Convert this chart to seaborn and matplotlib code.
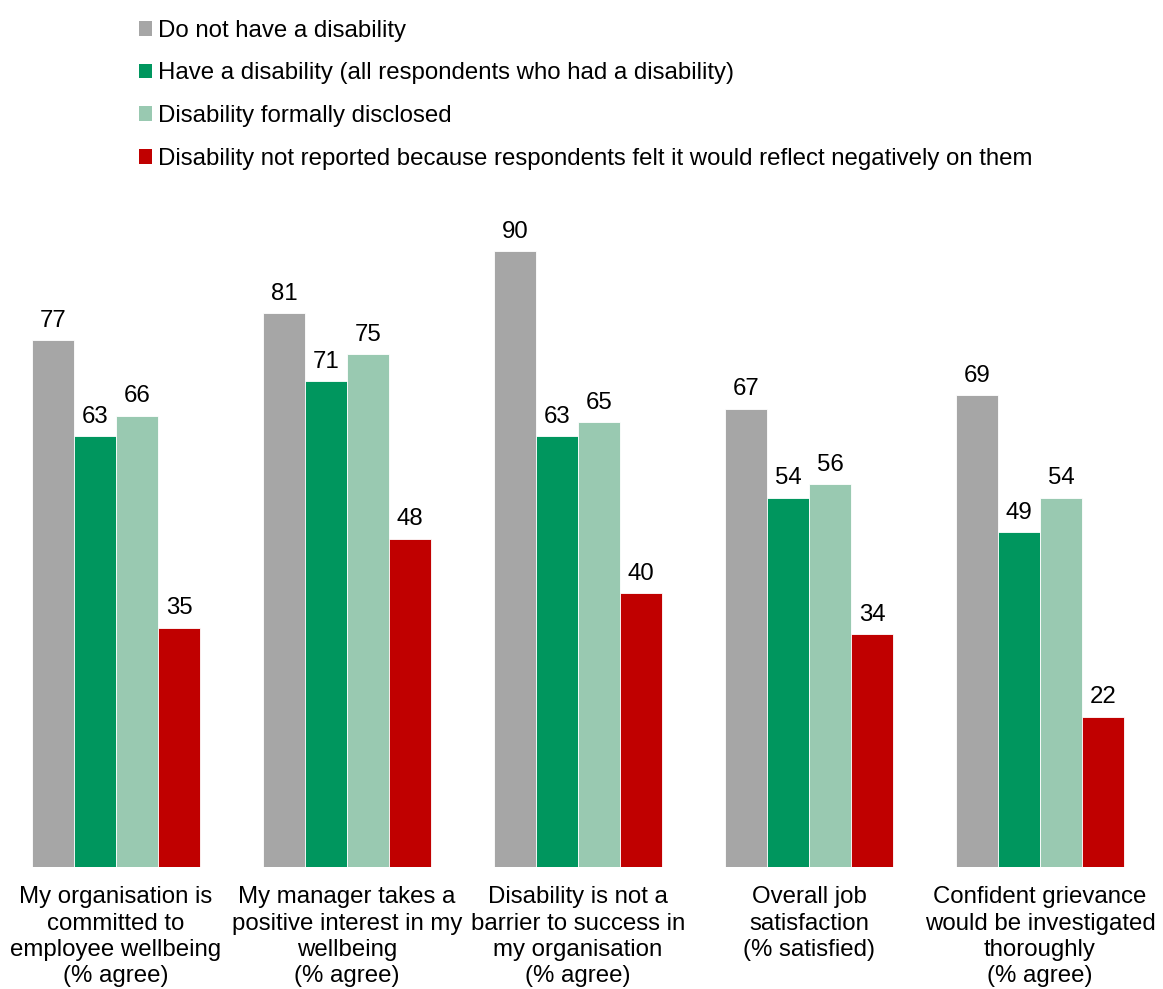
import matplotlib
matplotlib.use("Agg")
import matplotlib.pyplot as plt
import seaborn as sns
import pandas as pd
from matplotlib.patches import Patch

categories = [
    "My organisation is\ncommitted to\nemployee wellbeing\n(% agree)",
    "My manager takes a\npositive interest in my\nwellbeing\n(% agree)",
    "Disability is not a\nbarrier to success in\nmy organisation\n(% agree)",
    "Overall job\nsatisfaction\n(% satisfied)",
    "Confident grievance\nwould be investigated\nthoroughly\n(% agree)",
]
series_names = [
    "Do not have a disability",
    "Have a disability (all respondents who had a disability)",
    "Disability formally disclosed",
    "Disability not reported because respondents felt it would reflect negatively on them",
]
no_disability = [77, 81, 90, 67, 69]
have_disability = [63, 71, 63, 54, 49]
formally_disclosed = [66, 75, 65, 56, 54]
not_reported = [35, 48, 40, 34, 22]
colors = ["#A6A6A6", "#00965E", "#99C9B1", "#C00000"]

rows = []
for name, vals in zip(series_names, [no_disability, have_disability, formally_disclosed, not_reported]):
    for c, v in zip(categories, vals):
        rows.append({"category": c, "series": name, "value": v})
df = pd.DataFrame(rows)

sns.set_theme(style="white")
plt.rcParams["font.family"] = ["Liberation Sans", "DejaVu Sans"]
FS = 17.3

fig = plt.figure(figsize=(11.63, 9.89), dpi=100)
ax = fig.add_axes([0.5 / 1163, 122 / 989, 1155 / 1163, 684 / 989])
sns.barplot(data=df, x="category", y="value", hue="series", order=categories,
            hue_order=series_names, palette=colors, width=0.727, ax=ax,
            edgecolor="white", linewidth=0.6, legend=False, errorbar=None, saturation=1)
ax.set_ylim(0, 100)
ax.set_xlim(-0.5, 4.5)
for cont in ax.containers:
    ax.bar_label(cont, fmt="%d", padding=6, fontsize=FS, color="#000000")
ax.set_xlabel("")
ax.set_ylabel("")
ax.set_yticks([])
ax.tick_params(axis="x", length=0, pad=14, labelsize=FS, labelcolor="#000000")
for lbl in ax.get_xticklabels():
    lbl.set_linespacing(1.24)
for s in ax.spines.values():
    s.set_visible(False)

handles = [Patch(facecolor=c, edgecolor="none") for c in colors]
fig.legend(handles, series_names, loc="upper left", bbox_to_anchor=(134 / 1163, 1 - 15 / 989),
           frameon=False, fontsize=FS, handlelength=0.55, handleheight=0.55,
           handletextpad=0.25, labelspacing=0.86, borderaxespad=0, borderpad=0.2,
           labelcolor="#000000")

fig.savefig("out.png", dpi=100)
